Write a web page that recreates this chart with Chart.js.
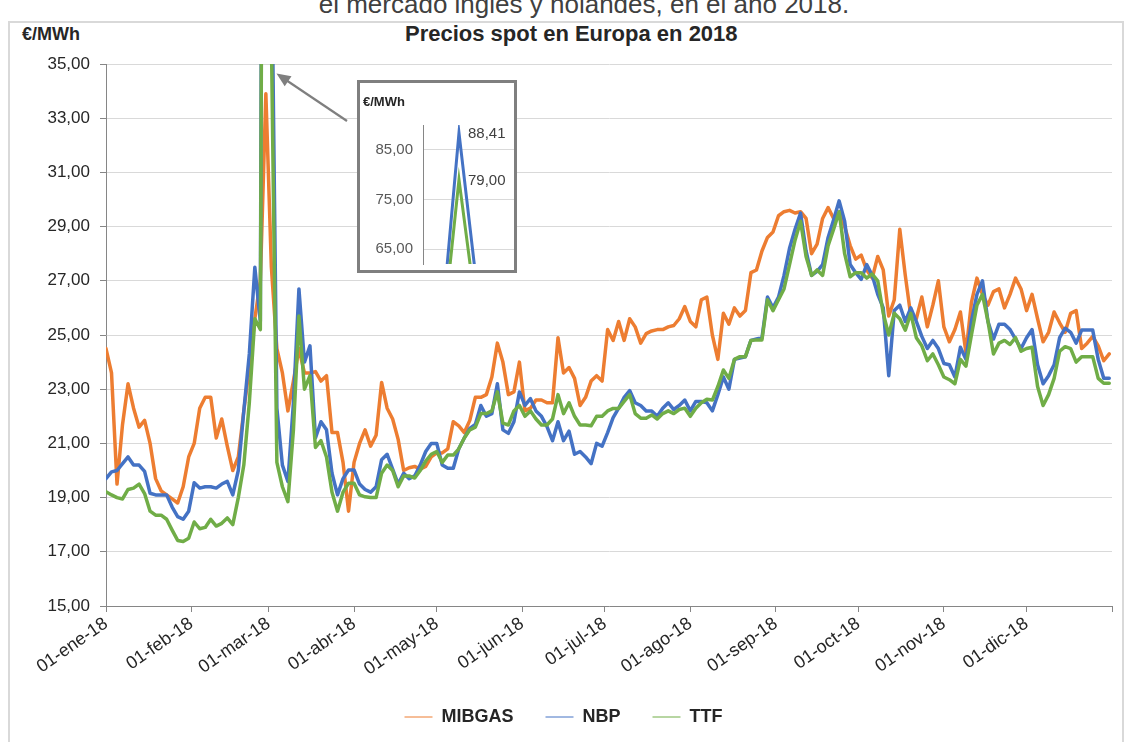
<!DOCTYPE html>
<html>
<head>
<meta charset="utf-8">
<script src="https://cdn.jsdelivr.net/npm/chart.js@4.4.1/dist/chart.umd.min.js"></script>
<style>
  body { margin: 0; background: #fff; font-family: "Liberation Sans", Arial, sans-serif; overflow: hidden; }
  #wrap { position: relative; width: 1127px; height: 742px; overflow: hidden; }
  #frame { position: absolute; left: 8px; top: 21px; width: 1116px; height: 740px; border: 2px solid #d9d9d9; box-sizing: border-box; }
  #cut { position: absolute; left: 40px; top: -9px; width: 1088px; text-align: center; font-size: 26px; line-height: 26px; color: #404040; white-space: nowrap; }
  #title { position: absolute; left: 405px; top: 23px; font-size: 22px; line-height: 22px; font-weight: bold; color: #262626; white-space: nowrap; }
  #unit { position: absolute; left: 22px; top: 25px; font-size: 18px; line-height: 18px; font-weight: bold; color: #262626; }
  #main { position: absolute; left: 0; top: 0; }
  #arrow { position: absolute; left: 0; top: 0; }
  #inset { position: absolute; left: 357px; top: 80px; width: 160px; height: 193px; border: 3px solid #7f7f7f; box-sizing: border-box; background: #fff; overflow: hidden; }
  #insetCanvas { position: absolute; left: 0; top: 0; }
  #insetUnit { position: absolute; left: 3px; top: 12px; font-size: 13px; line-height: 13px; font-weight: bold; color: #262626; }
</style>
</head>
<body>
<div id="wrap">
  <div id="frame"></div>
  <div id="cut">el mercado inglés y holandés, en el año 2018.</div>
  <div id="title">Precios spot en Europa en 2018</div>
  <div id="unit">€/MWh</div>
  <canvas id="main" width="1127" height="742"></canvas>
  <svg id="arrow" width="1127" height="742">
    <line x1="347" y1="121" x2="286" y2="80" stroke="#7f7f7f" stroke-width="2.2"/>
    <polygon points="276.5,73.5 291.5,76.3 284.7,86.3" fill="#7f7f7f"/>
  </svg>
  <div id="inset">
    <canvas id="insetCanvas" width="154" height="200"></canvas>
    <div id="insetUnit">€/MWh</div>
  </div>
</div>
<script>
// daily spot prices, one value every 2 days from 01-ene-18
const DAY_STEP = 2;

const mibgas = [
  24.5, 23.6, 19.5, 21.7, 23.2, 22.3, 21.6, 21.85, 21.0, 19.7,
  19.25, 19.1, 18.95, 18.8, 19.4, 20.5, 21.0, 22.3, 22.7, 22.7,
  21.2, 21.9, 20.9, 20.0, 20.5, 22.2, 23.8, 25.6, 27.0, 33.9,
  27.5, 24.5, 23.6, 22.2, 23.3, 24.5, 23.6, 23.6, 23.65, 23.3,
  23.5, 21.4, 21.4, 20.3, 18.5, 20.3, 21.0, 21.5, 20.9, 21.3,
  23.25, 22.3, 21.9, 21.15, 20.0, 20.1, 20.15, 20.05, 20.15, 20.5,
  20.65, 20.65, 20.8, 21.8, 21.65, 21.4, 21.85, 22.7, 22.7, 22.8,
  23.45, 24.7, 24.0, 22.8, 22.9, 24.0, 22.2, 22.3, 22.6, 22.6,
  22.5, 22.5, 24.9, 23.6, 23.8, 23.4, 22.4, 22.7, 23.3, 23.5,
  23.3, 25.2, 24.8, 25.5, 24.8, 25.6, 25.3, 24.7, 25.05, 25.15,
  25.2, 25.2, 25.3, 25.35, 25.6, 26.05, 25.5, 25.3, 26.3, 26.4,
  25.0, 24.1, 25.8, 25.4, 26.0, 25.7, 25.9, 27.3, 27.4, 28.1,
  28.6, 28.8, 29.4, 29.55, 29.6, 29.5, 29.55, 29.3, 28.0, 28.35,
  29.3, 29.7, 29.3, 29.5, 29.0, 28.3, 27.8, 27.95, 27.4, 27.1,
  27.9, 27.4, 25.7, 26.3, 28.9, 27.2, 25.7, 25.6, 26.4, 25.3,
  26.1, 27.0, 25.3, 24.75, 25.2, 25.85, 24.35, 26.2, 27.1, 26.5,
  26.1, 26.6, 26.7, 26.0, 26.5, 27.1, 26.7, 25.9, 26.5, 25.6,
  24.75, 25.1, 25.85, 25.45, 25.1, 25.8, 25.9, 24.5, 24.7, 24.95,
  24.6, 24.05, 24.3
];

const nbp = [
  19.7, 19.95, 20.0, 20.25, 20.5, 20.2, 20.2, 19.97, 19.16, 19.1,
  19.1, 19.1, 18.65, 18.3, 18.2, 18.5, 19.55, 19.35, 19.4, 19.4,
  19.35, 19.5, 19.6, 19.1, 20.0, 22.2, 24.3, 27.5, 25.5, 88.41,
  40.0, 22.3, 20.2, 19.6, 22.5, 26.7, 24.0, 24.6, 21.2, 21.8,
  21.5, 19.9, 19.1, 19.7, 20.02, 20.02, 19.5, 19.3, 19.2, 19.4,
  20.4, 20.6, 20.05, 19.5, 19.9, 19.7, 19.8, 20.2, 20.7, 21.0,
  21.0, 20.2, 20.08, 20.08, 20.8, 21.2, 21.55, 21.7, 22.4, 22.0,
  22.1, 23.2, 21.5, 21.37, 21.8, 22.9, 22.4, 22.65, 22.2, 22.0,
  21.62, 21.1, 21.8, 21.1, 21.45, 20.6, 20.7, 20.5, 20.25, 21.0,
  20.9, 21.4, 21.95, 22.3, 22.7, 22.95, 22.5, 22.4, 22.2, 22.2,
  22.0, 22.3, 22.5, 22.25, 22.4, 22.6, 22.2, 22.55, 22.55, 22.5,
  22.2, 22.8, 23.45, 23.0, 24.1, 24.15, 24.2, 24.8, 24.85, 24.9,
  26.4, 26.0, 26.4, 27.2, 28.2, 28.9, 29.5, 28.1, 27.2, 27.35,
  27.6, 28.6, 29.25, 29.95, 29.2, 27.6, 27.3, 27.05, 27.6, 27.2,
  26.5, 26.0, 23.5, 25.9, 26.1, 25.5, 26.0, 25.5, 24.95, 24.5,
  24.8, 24.5, 23.95, 23.9, 23.45, 24.55, 24.1, 25.5, 26.5, 27.0,
  25.5, 24.85, 25.4, 25.4, 25.2, 24.85, 24.5, 24.9, 25.2, 23.9,
  23.2, 23.5, 23.9, 24.9, 25.25, 25.1, 24.7, 25.18, 25.18, 25.18,
  24.1, 23.4, 23.4
];

const ttf = [
  19.22, 19.1, 19.0, 18.95, 19.3, 19.35, 19.5, 19.15, 18.5, 18.35,
  18.35, 18.2, 17.8, 17.42, 17.38, 17.5, 18.1, 17.85, 17.9, 18.2,
  17.95, 18.05, 18.25, 18.0, 19.0, 20.2, 22.5, 25.6, 25.2, 79.0,
  36.0, 20.3, 19.4, 18.85, 21.5, 25.7, 23.0, 23.5, 20.85, 21.1,
  20.5, 19.2, 18.5, 19.2, 19.53, 19.53, 19.1, 19.03, 19.0, 19.0,
  19.9, 20.2, 20.0, 19.4, 19.8, 19.8, 19.72, 20.0, 20.35, 20.6,
  20.7, 20.3, 20.57, 20.57, 20.8, 21.2, 21.5, 21.6, 22.1, 22.1,
  22.2, 22.9, 21.75, 21.68, 22.2, 22.4, 22.0, 22.2, 21.9, 21.68,
  21.68, 21.9, 22.8, 22.1, 22.5, 22.0, 21.68, 21.68, 21.65, 22.0,
  22.0, 22.2, 22.29, 22.29, 22.55, 22.8, 22.1, 21.93, 21.93, 22.05,
  21.9, 22.1, 22.2, 22.1, 22.25, 22.3, 22.0, 22.3, 22.5, 22.63,
  22.6, 23.1, 23.71, 23.4, 24.1, 24.2, 24.2, 24.8, 24.82, 24.82,
  26.3, 25.9, 26.3, 26.7, 27.6, 28.5, 29.2, 27.9, 27.2, 27.4,
  27.2, 28.3, 28.9, 29.55, 28.0, 27.15, 27.3, 27.3, 27.1, 27.25,
  27.0, 25.8, 25.0, 25.8, 25.6, 25.18, 25.8, 24.9, 24.6, 24.05,
  24.3, 23.9, 23.45, 23.35, 23.2, 24.1, 23.85, 25.0, 26.1, 26.5,
  25.5, 24.3, 24.7, 24.8, 24.65, 24.9, 24.4, 24.5, 24.55, 23.1,
  22.4, 22.8, 23.4, 24.4, 24.57, 24.5, 24.0, 24.2, 24.2, 24.2,
  23.4, 23.22, 23.22
];

// month starts (days since 01-ene-18) and their tick labels
const monthDays = [0, 31, 59, 90, 120, 151, 181, 212, 243, 273, 304, 334, 365];
const monthLabels = ['01-ene-18', '01-feb-18', '01-mar-18', '01-abr-18', '01-may-18', '01-jun-18',
  '01-jul-18', '01-ago-18', '01-sep-18', '01-oct-18', '01-nov-18', '01-dic-18', ''];

// inset: zoom on the 1-mar spike
const insetIdx = [28, 29, 30];
const insetTicks = [65, 75, 85];

const COLORS = { mibgas: '#ED7D31', nbp: '#4472C4', ttf: '#70AD47' };

Chart.defaults.font.family = '"Liberation Sans", Arial, sans-serif';
Chart.defaults.color = '#262626';

const toPoints = vals => vals.map((v, i) => ({ x: i * DAY_STEP, y: v }));
const comma = v => v.toFixed(2).replace('.', ',');

new Chart(document.getElementById('main'), {
  type: 'line',
  data: {
    datasets: [
      { label: 'MIBGAS', data: toPoints(mibgas), borderColor: COLORS.mibgas, backgroundColor: COLORS.mibgas, order: 3 },
      { label: 'NBP', data: toPoints(nbp), borderColor: COLORS.nbp, backgroundColor: COLORS.nbp, order: 2 },
      { label: 'TTF', data: toPoints(ttf), borderColor: COLORS.ttf, backgroundColor: COLORS.ttf, order: 1 }
    ]
  },
  options: {
    responsive: false,
    animation: false,
    devicePixelRatio: 1,
    layout: { padding: { top: 64, left: 0, right: 0, bottom: 6 } },
    elements: {
      line: { borderWidth: 3.5, tension: 0, borderJoinStyle: 'round', borderCapStyle: 'round' },
      point: { radius: 0 }
    },
    scales: {
      x: {
        type: 'linear', min: 0, max: 365,
        afterBuildTicks: s => { s.ticks = monthDays.map(v => ({ value: v })); },
        afterFit: s => { s.height = 70; s.paddingRight = 15; },
        ticks: {
          autoSkip: false, minRotation: 35, maxRotation: 35, padding: 1,
          font: { size: 18 }, color: '#262626',
          callback: v => monthLabels[monthDays.indexOf(v)] || ''
        },
        grid: { drawOnChartArea: false, tickLength: 6, color: '#868686' },
        border: { color: '#868686' }
      },
      y: {
        min: 15, max: 35,
        afterFit: s => { s.width = 106; },
        ticks: { stepSize: 2, padding: 10, font: { size: 17 }, color: '#262626', callback: v => comma(v) },
        grid: { color: '#d9d9d9', tickColor: '#868686', tickLength: 6 },
        border: { color: '#868686' }
      }
    },
    plugins: {
      legend: {
        position: 'bottom',
        labels: {
          usePointStyle: true, pointStyle: 'line', pointStyleWidth: 28, padding: 32,
          font: { size: 18, weight: 'bold' }, color: '#262626',
          sort: (a, b) => a.datasetIndex - b.datasetIndex
        }
      },
      tooltip: { enabled: false }
    }
  }
});

const peakLabels = {
  id: 'peakLabels',
  afterDatasetsDraw(c) {
    const ctx = c.ctx;
    ctx.save();
    ctx.font = '15px "Liberation Sans", Arial, sans-serif';
    ctx.fillStyle = '#404040';
    ctx.textBaseline = 'middle';
    c.data.datasets.forEach((ds, i) => {
      const pt = c.getDatasetMeta(i).data[1];
      ctx.fillText(comma(ds.data[1].y), pt.x + 9, pt.y + 1);
    });
    ctx.restore();
  }
};

const insetPoints = vals => insetIdx.map(i => ({ x: i * DAY_STEP, y: vals[i] }));

new Chart(document.getElementById('insetCanvas'), {
  type: 'line',
  data: {
    datasets: [
      { label: 'NBP', data: insetPoints(nbp), borderColor: COLORS.nbp, order: 2 },
      { label: 'TTF', data: insetPoints(ttf), borderColor: COLORS.ttf, order: 1 }
    ]
  },
  options: {
    responsive: false,
    animation: false,
    devicePixelRatio: 1,
    layout: { padding: { top: 42, bottom: 8, left: 0, right: 0 } },
    elements: { line: { borderWidth: 3, tension: 0 }, point: { radius: 0 } },
    scales: {
      x: { type: 'linear', display: false, min: 55.43, max: 61.93 },
      y: {
        min: 62, max: 90,
        afterFit: s => { s.width = 63; },
        afterBuildTicks: s => { s.ticks = insetTicks.map(v => ({ value: v })); },
        ticks: { padding: 10, font: { size: 15 }, color: '#595959', callback: v => comma(v) },
        grid: { color: '#d9d9d9', drawTicks: false },
        border: { color: '#868686' }
      }
    },
    plugins: { legend: { display: false }, tooltip: { enabled: false } }
  },
  plugins: [peakLabels]
});
</script>
</body>
</html>
